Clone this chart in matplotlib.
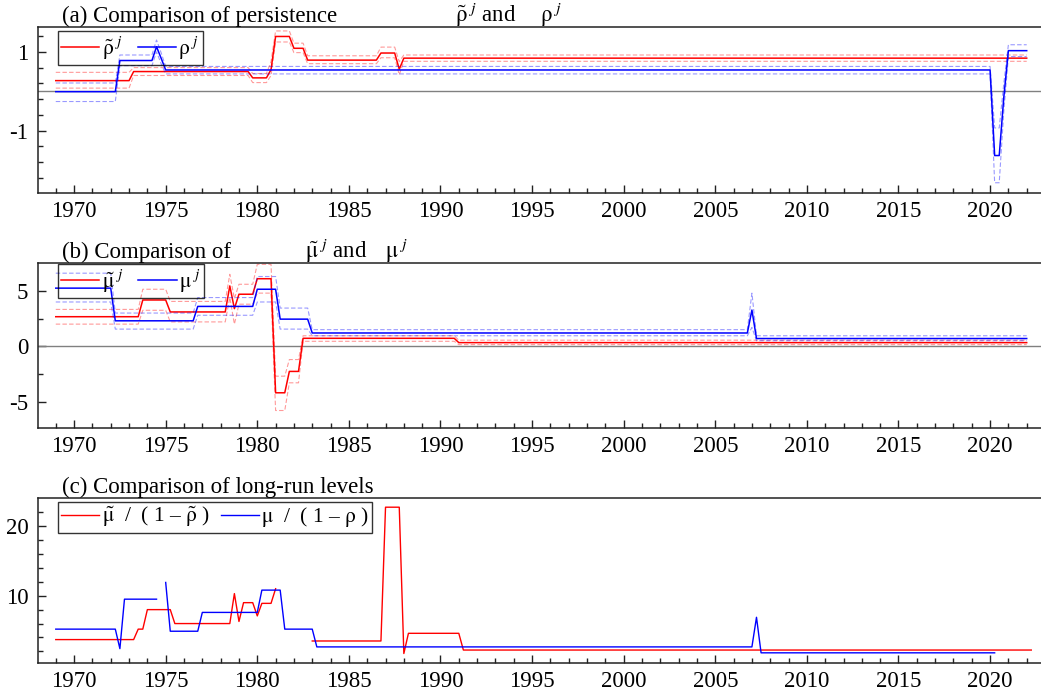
import numpy as np
import matplotlib
matplotlib.use('Agg')
import matplotlib.pyplot as plt
from matplotlib.ticker import MultipleLocator, FixedLocator


# Regime values (quarterly data, value holds from each date on)

#### (a) persistence
rho_t_dates = [1969.0, 1973.25, 1979.75, 1980.75, 1981.0, 1982.0, 1982.75, 1986.75, 1987.75, 1988.0]
rho_t_vals  = [0.27, 0.50, 0.34, 0.55, 1.39, 1.09, 0.79, 0.97, 0.56, 0.84]
rho_t_hi    = [0.48, 0.60, 0.45, 0.75, 1.53, 1.22, 0.90, 1.12, 0.75, 0.92]
rho_t_lo    = [0.08, 0.40, 0.22, 0.40, 1.25, 0.98, 0.70, 0.85, 0.42, 0.76]

rho_dates = [1969.0, 1972.5, 1974.5, 1974.75, 1975.0, 2020.25, 2020.75, 2021.0]
rho_vals  = [-0.01, 0.78, 1.13, 0.84, 0.54, -1.63, -0.15, 1.03]
rho_hi    = [0.21, 0.92, 1.30, 0.98, 0.63, -0.93, 0.20, 1.18]
rho_lo    = [-0.26, 0.65, 1.00, 0.70, 0.44, -2.32, -0.50, 0.88]

#### (b) intercepts
mu_t_dates = [1969.0, 1973.75, 1975.25, 1978.5, 1978.75, 1979.0, 1980.0, 1981.0, 1981.75, 1982.5, 1991.0]
mu_t_vals  = [2.67, 4.18, 3.10, 5.45, 3.40, 4.70, 6.10, -4.20, -2.27, 0.72, 0.33]
mu_t_hi    = [3.33, 5.15, 4.05, 6.50, 4.30, 5.60, 7.40, -2.70, -1.20, 0.95, 0.55]
mu_t_lo    = [2.00, 3.25, 2.20, 4.40, 2.00, 3.80, 4.80, -5.80, -3.30, 0.45, 0.15]

mu_dates = [1969.0, 1972.25, 1976.75, 1980.0, 1981.25, 1983.0, 2007.0, 2007.25]
mu_vals  = [5.25, 2.30, 3.60, 5.15, 2.45, 1.20, 3.27, 0.70]
mu_hi    = [6.60, 3.00, 4.40, 6.30, 3.45, 1.50, 4.80, 0.95]
mu_lo    = [4.00, 1.55, 2.80, 4.00, 1.55, 0.95, 1.70, 0.50]

#### (c) long-run levels
lr_t_dates = [1969.0, 1973.5, 1974.0, 1975.5, 1978.75, 1979.0, 1979.25, 1980.0, 1980.25, 1981.0,
              1981.25, 1983.0, 1987.0, 1988.0, 1988.25, 1991.25]
lr_t_vals  = [3.7, 5.2, 8.0, 6.0, 10.3, 6.3, 9.0, 7.1, 8.9, 11.0,
              np.nan, 3.5, 22.7, 1.7, 4.6, 2.2]

lr_dates = [1969.0, 1972.5, 1972.75, 1974.75, 1975.0, 1975.25, 1977.0, 1980.25, 1981.5, 1983.25, 2007.25, 2007.5]
lr_vals  = [5.2, 2.4, 9.5, np.nan, 11.9, 4.9, 7.6, 10.8, 5.2, 2.65, 6.9, 1.8]

end_ab = 2022.0
end_c_red = 2022.25
end_c_blue = 2020.25


def steps(dates, vals, end):
    q = np.arange(dates[0], end + 0.01, 0.25)
    idx = np.searchsorted(dates, q + 1e-9, side='right') - 1
    return q, np.asarray(vals, float)[idx]


# Styling

plt.rcParams['font.family'] = 'Liberation Serif'
plt.rcParams['mathtext.fontset'] = 'stix'
plt.rcParams['axes.unicode_minus'] = False
FS = 16.5
LFS = 15.5

RED = '#ff0000'
BLUE = '#0000ff'

fig = plt.figure(figsize=(10.41, 6.96), dpi=100)

W, H = 1041.0, 696.0
def add_axes(top, bottom, left=38):
    return fig.add_axes([left / W, 1 - bottom / H, (W - left) / W, (bottom - top) / H])

ax_a = add_axes(27, 193)
ax_b = add_axes(263, 428)
ax_c = add_axes(498, 663)

for ax in (ax_a, ax_b, ax_c):
    ax.set_xlim(1968.03, 2022.78)
    ax.xaxis.set_major_locator(MultipleLocator(5))
    ax.xaxis.set_minor_locator(MultipleLocator(1))
    ax.tick_params(which='both', direction='in', labelsize=FS, width=1.0, color='#222222')
    ax.tick_params(which='major', length=6)
    ax.tick_params(which='minor', length=3.5)
    ax.tick_params(axis='x', pad=6)
    ax.tick_params(axis='y', pad=7, left=True, right=False)
    ax.spines['right'].set_visible(False)
    for s in ('left', 'top', 'bottom'):
        ax.spines[s].set_linewidth(1.1)
        ax.spines[s].set_color('#222222')


def band_plot(ax, dates, vals, hi, lo, color, end):
    x, v = steps(dates, vals, end)
    _, u = steps(dates, hi, end)
    _, l = steps(dates, lo, end)
    ax.plot(x, u, color=color, lw=0.8, alpha=0.4, ls=(0, (4, 2)))
    ax.plot(x, l, color=color, lw=0.8, alpha=0.4, ls=(0, (4, 2)))
    return ax.plot(x, v, color=color, lw=1.1)[0]


def legend(ax, handles, labels, dy, colsp=0.5):
    h = ax.get_position().height * H
    w = ax.get_position().width * W
    leg = ax.legend(handles, labels, ncol=2, loc='upper left',
                    bbox_to_anchor=(20 / w, 1 - dy / h), borderaxespad=0,
                    fontsize=LFS, handlelength=1.77, handletextpad=0.12,
                    columnspacing=colsp, borderpad=0.15, fancybox=False,
                    frameon=True, edgecolor='black', facecolor='none')
    leg.get_frame().set_linewidth(1.0)


def title(ax, text, dx):
    ax.annotate(text, xy=(0, 1), xycoords='axes fraction', xytext=(dx, 5),
                textcoords='offset pixels', fontsize=FS, va='baseline', ha='left')


#### (a)
ax_a.axhline(0, color='#808080', lw=1.0)
l1 = band_plot(ax_a, rho_t_dates, rho_t_vals, rho_t_hi, rho_t_lo, RED, end_ab)
l2 = band_plot(ax_a, rho_dates, rho_vals, rho_hi, rho_lo, BLUE, end_ab)
ax_a.set_ylim(-2.58, 1.63)
ax_a.yaxis.set_major_locator(FixedLocator([-1, 1]))
ax_a.yaxis.set_minor_locator(FixedLocator(np.arange(-2.2, 1.5, 0.4)))
legend(ax_a, [l1, l2], [r'$\tilde{\mathrm{\rho}}^{\,\,j}$', r'$\mathrm{\rho}^{\,\,j}$'], 4, 0.7)
title(ax_a, '(a) Comparison of persistence', 24)
title(ax_a, r'$\tilde{\mathrm{\rho}}^{\,\,j}$ and', 417)
title(ax_a, r'$\mathrm{\rho}^{\,\,j}$', 502)

#### (b)
ax_b.axhline(0, color='#808080', lw=1.0)
l1 = band_plot(ax_b, mu_t_dates, mu_t_vals, mu_t_hi, mu_t_lo, RED, end_ab)
l2 = band_plot(ax_b, mu_dates, mu_vals, mu_hi, mu_lo, BLUE, end_ab)
ax_b.set_ylim(-7.38, 7.52)
ax_b.yaxis.set_major_locator(FixedLocator([-5, 0, 5]))
ax_b.yaxis.set_minor_locator(FixedLocator([-2.5, 2.5]))
legend(ax_b, [l1, l2], [r'$\tilde{\mathrm{\mu}}^{\,\,j}$', r'$\mathrm{\mu}^{\,\,j}$'], 1, 0.7)
title(ax_b, '(b) Comparison of', 24)
title(ax_b, r'$\tilde{\mathrm{\mu}}^{\,\,j}$ and', 267)
title(ax_b, r'$\mathrm{\mu}^{\,\,j}$', 347)

#### (c)
x, v = steps(lr_t_dates, lr_t_vals, end_c_red)
l1, = ax_c.plot(x, v, color=RED, lw=1.0)
x, v = steps(lr_dates, lr_vals, end_c_blue)
l2, = ax_c.plot(x, v, color=BLUE, lw=1.0)
ax_c.set_ylim(0.34, 24.02)
ax_c.yaxis.set_major_locator(FixedLocator([10, 20]))
ax_c.yaxis.set_minor_locator(FixedLocator([2, 4, 6, 8, 12, 14, 16, 18, 22]))
legend(ax_c, [l1, l2],
       [r'$\tilde{\mathrm{\mu}}$  /  ( 1 – $\tilde{\mathrm{\rho}}$ )',
        r'$\mathrm{\mu}$  /  ( 1 – $\mathrm{\rho}$ )'], 4, 0.5)
title(ax_c, '(c) Comparison of long-run levels', 24)

fig.savefig('out.png', dpi=100)
